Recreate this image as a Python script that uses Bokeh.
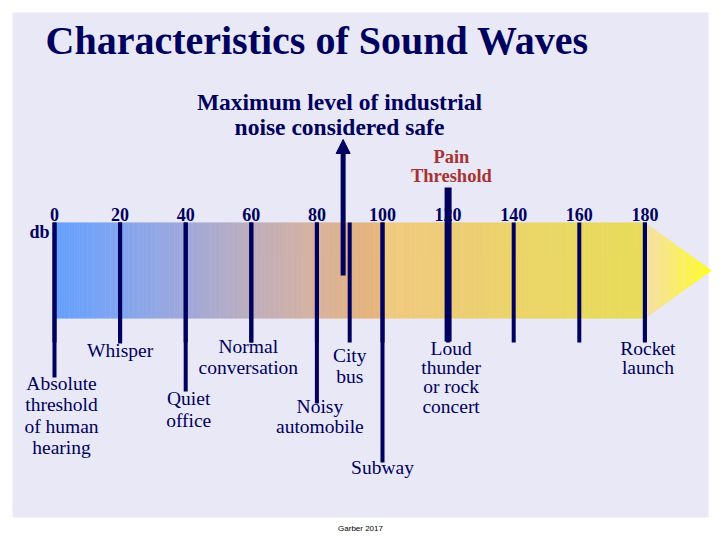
import numpy as np
from bokeh.plotting import figure
from bokeh.models import Range1d, Arrow, NormalHead
from bokeh.core.properties import value
from bokeh.embed import file_html
from bokeh.resources import INLINE

# ---------------- data ----------------
scale_ticks = [0, 20, 40, 60, 80, 100, 120, 140, 160, 180]
scale_labels = ["0", "20", "40", "60", "80", "100", "120", "140", "160", "180"]
sound_names = ["Absolute\nthreshold\nof human\nhearing", "Whisper", "Quiet\noffice",
               "Normal\nconversation", "Noisy\nautomobile", "City\nbus", "Subway",
               "Loud\nthunder\nor rock\nconcert", "Rocket\nlaunch"]
sound_db = [0, 20, 40, 60, 80, 90, 100, 120, 180]
safe_limit_db = 88
pain_threshold_db = 120
title_text = "Characteristics of Sound Waves"
safe_text = "Maximum level of industrial\nnoise considered safe"
pain_text = "Pain\nThreshold"
unit_text = "db"
credit_text = "Garber 2017"

# ---------------- layout / style ----------------
NAVY = "#00005e"
SERIF = value("Liberation Serif")
PX0, PXS = 54.0, 3.28           # pixel of 0 dB, pixels per dB
W, H = 712, 532


def X(px):
    return (px - PX0) / PXS


def B(y, size):
    # baseline correction for rendered text
    return y - 0.36 * size


# per sound label: (x offset px, first baseline y, line spacing, line bottom y)
label_layout = {
    0: (7, 390, 21.5, 377),
    20: (0, 357, 21, 343),
    40: (3, 405, 22, 391),
    60: (-3, 353, 21, 342),
    80: (3, 413, 20.5, 403),
    90: (0, 362, 21, 342),
    100: (0, 474, 21, 462),
    120: (3, 355, 19.2, 341),
    180: (3, 355, 19, 341),
}

p = figure(width=W, height=H, x_range=Range1d(X(0), X(W)), y_range=Range1d(H, 0),
           output_backend="svg", toolbar_location=None, min_border=0)
p.axis.visible = False
p.grid.visible = False
p.outline_line_color = None
p.background_fill_color = "white"
p.border_fill_color = "white"

# panel
p.quad(left=[X(12)], right=[X(708)], top=[12], bottom=[517], fill_color="#e8e8f6", line_color=None)

# gradient band
stops_db = [0, 20, 40, 60, 80, 95, 100, 100.6, 120, 140, 160, 180]
stops_col = ["#64a0ff", "#82a6f0", "#a0a8dc", "#beaebe", "#d8b29e", "#e4b480", "#e8b67c",
             "#f0ca80", "#eecc76", "#ecd46a", "#e9d960", "#e7dc58"]
rgb = np.array([[int(c[i:i + 2], 16) for i in (1, 3, 5)] for c in stops_col], dtype=float)
edges = np.linspace(0, 180, 361)
mids = (edges[:-1] + edges[1:]) / 2
cols = []
for m in mids:
    r, g, b = (np.interp(m, stops_db, rgb[:, k]) for k in range(3))
    cols.append("#%02x%02x%02x" % (int(r), int(g), int(b)))
p.quad(left=edges[:-1], right=edges[1:] + 0.15, top=222, bottom=318, fill_color=cols, line_color=None)

# arrow head gradient
tip = X(711)
he = np.linspace(180, tip, 60)
c0 = np.array([246, 222, 168.0])
c1 = np.array([255, 255, 30.0])
xs, ys, hc = [], [], []
for a, b in zip(he[:-1], he[1:]):
    ha = 48 * (tip - a) / (tip - 180)
    hb = 48 * (tip - b) / (tip - 180)
    bb = min(b + 0.1, tip)
    xs.append([a, bb, bb, a])
    ys.append([270 - ha, 270 - hb, 270 + hb, 270 + ha])
    t = ((a + b) / 2 - 180) / (tip - 180)
    c = c0 + (c1 - c0) * t
    hc.append("#%02x%02x%02x" % tuple(int(v) for v in c))
p.patches(xs=xs, ys=ys, fill_color=hc, line_color=None)

# tick lines
p.segment(x0=scale_ticks, x1=scale_ticks, y0=[222] * len(scale_ticks), y1=[342] * len(scale_ticks),
          line_color=NAVY, line_width=4)
bottoms = [label_layout[d][3] for d in sound_db]
widths = [7 if d == pain_threshold_db else 4 for d in sound_db]
tops = [187 if d == pain_threshold_db else 222 for d in sound_db]
p.segment(x0=sound_db, x1=sound_db, y0=tops, y1=bottoms, line_color=NAVY, line_width=widths)

# safe-limit arrow
p.add_layout(Arrow(end=NormalHead(size=14, fill_color=NAVY, line_color=NAVY),
                   x_start=safe_limit_db, y_start=275, x_end=safe_limit_db, y_end=139,
                   line_color=NAVY, line_width=5))

# tick labels
p.text(x=scale_ticks, y=[B(220, 18)] * len(scale_ticks), text=scale_labels, text_font=SERIF,
       text_font_style="bold", text_font_size="18px", text_align="center",
       text_baseline="alphabetic", text_color=NAVY)
p.text(x=[X(49)], y=[B(238, 18)], text=[unit_text], text_font=SERIF, text_font_style="bold",
       text_font_size="18px", text_align="right", text_baseline="alphabetic", text_color=NAVY)

# sound labels
lx, ly, lt = [], [], []
for d, name in zip(sound_db, sound_names):
    dx, y0, sp, _ = label_layout[d]
    for i, line in enumerate(name.split("\n")):
        lx.append(d + dx / PXS)
        ly.append(B(y0 + i * sp, 19.5))
        lt.append(line)
p.text(x=lx, y=ly, text=lt, text_font=SERIF, text_font_size="19.5px", text_align="center",
       text_baseline="alphabetic", text_color=NAVY)

# title
p.text(x=[X(45)], y=[B(54, 40)], text=[title_text], text_font=SERIF, text_font_style="bold",
       text_font_size="40px", text_align="left", text_baseline="alphabetic", text_color=NAVY)

# safe text
st = safe_text.split("\n")
p.text(x=[X(339)] * len(st), y=[B(110 + 25 * i, 23.5) for i in range(len(st))], text=st,
       text_font=SERIF, text_font_style="bold", text_font_size="23.5px", text_align="center",
       text_baseline="alphabetic", text_color=NAVY)

# pain text
pt = pain_text.split("\n")
p.text(x=[pain_threshold_db + 1] * len(pt), y=[B(163 + 19 * i, 18.5) for i in range(len(pt))],
       text=pt, text_font=SERIF, text_font_style="bold", text_font_size="18.5px",
       text_align="center", text_baseline="alphabetic", text_color="#a83232")

# credit
p.text(x=[X(360)], y=[528], text=[credit_text], text_font=value("Liberation Sans"),
       text_font_size="8px", text_align="center", text_baseline="alphabetic", text_color="black")

open("out.html", "w").write(file_html(p, INLINE))
